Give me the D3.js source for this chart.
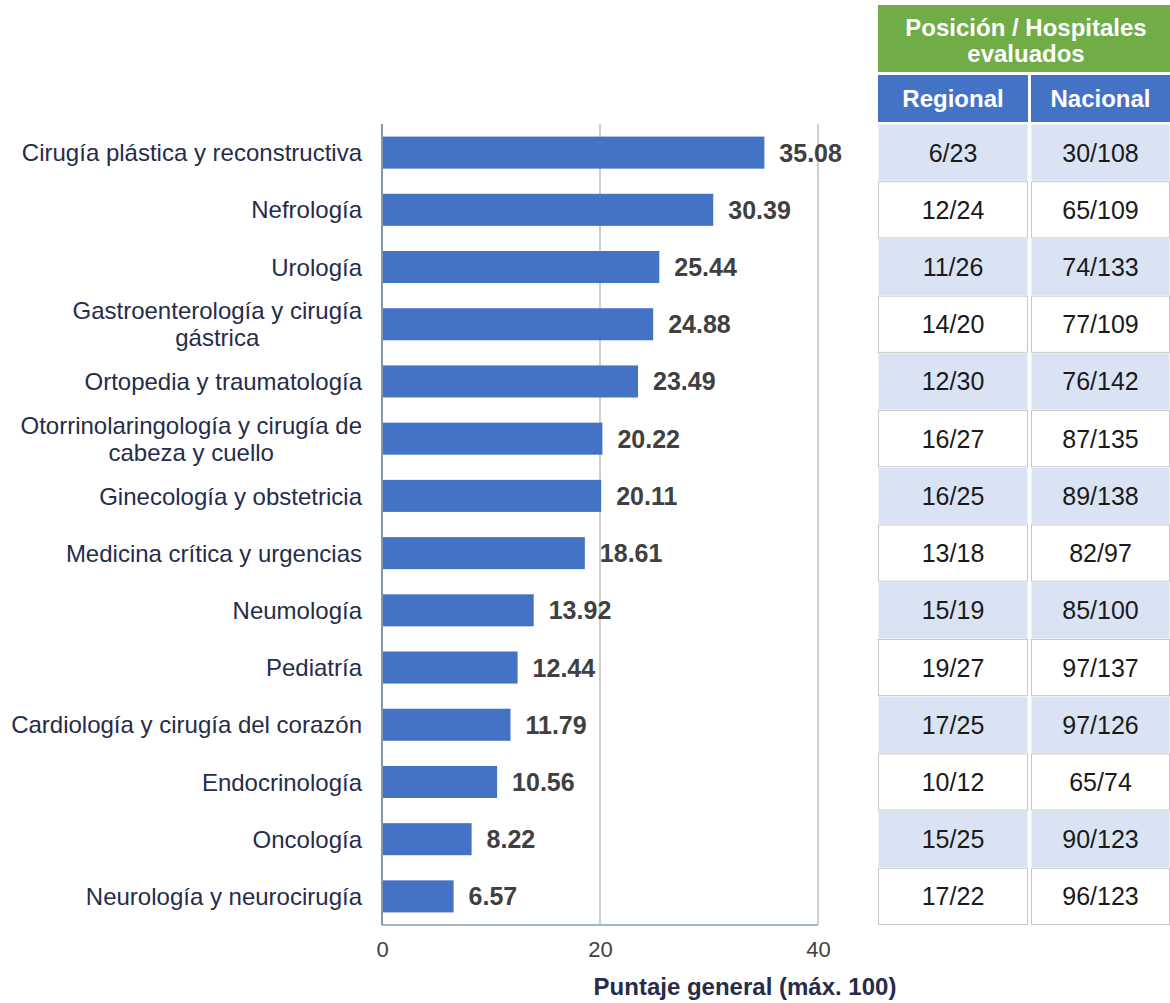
<!DOCTYPE html>
<html>
<head>
<meta charset="utf-8">
<script src="https://cdn.jsdelivr.net/npm/d3@7"></script>
<style>
  body { margin: 0; background: #fff; }
  svg { display: block; font-family: "Liberation Sans", Arial, sans-serif; }
</style>
</head>
<body>
<svg width="1170" height="1003"></svg>
<script>
const categories = [
  "Cirugía plástica y reconstructiva", "Nefrología", "Urología",
  "Gastroenterología y cirugía gástrica", "Ortopedia y traumatología",
  "Otorrinolaringología y cirugía de cabeza y cuello", "Ginecología y obstetricia",
  "Medicina crítica y urgencias", "Neumología", "Pediatría",
  "Cardiología y cirugía del corazón", "Endocrinología", "Oncología",
  "Neurología y neurocirugía"
];
const scores = [35.08, 30.39, 25.44, 24.88, 23.49, 20.22, 20.11, 18.61, 13.92, 12.44, 11.79, 10.56, 8.22, 6.57];
const regional = ["6/23", "12/24", "11/26", "14/20", "12/30", "16/27", "16/25", "13/18", "15/19", "19/27", "17/25", "10/12", "15/25", "17/22"];
const nacional = ["30/108", "65/109", "74/133", "77/109", "76/142", "87/135", "89/138", "82/97", "85/100", "97/137", "97/126", "65/74", "90/123", "96/123"];
const xTicks = [0, 20, 40];
const tableTitle = ["Posición / Hospitales", "evaluados"];
const colHeads = ["Regional", "Nacional"];
const axisTitle = "Puntaje general (máx. 100)";

const svg = d3.select("svg");
const plotTop = 124, plotBottom = 925;

var x = d3.scaleLinear().domain([0, 40]).range([382, 818]);
var y = d3.scaleBand().domain(categories).range([plotTop, plotBottom]).paddingInner(0.44).paddingOuter(0.22);
var rowY = d3.scaleBand().domain(categories).range([plotTop, plotBottom]);

// grid lines and frame
svg.selectAll("line.grid")
  .data(xTicks.slice(1))
  .enter().append("line")
  .attr("x1", d => x(d)).attr("x2", d => x(d))
  .attr("y1", plotTop).attr("y2", plotBottom)
  .attr("stroke", "#bfbfbf").attr("stroke-width", 1.5);

svg.append("line")
  .attr("x1", x(0)).attr("x2", x(40))
  .attr("y1", plotBottom).attr("y2", plotBottom)
  .attr("stroke", "#a6b4c8").attr("stroke-width", 2);
svg.append("line")
  .attr("x1", x(0)).attr("x2", x(0))
  .attr("y1", plotTop).attr("y2", plotBottom)
  .attr("stroke", "#8497b0").attr("stroke-width", 2);

// bars
svg.selectAll("rect.bar")
  .data(scores)
  .enter().append("rect")
  .attr("class", "bar")
  .attr("x", x(0) + 1)
  .attr("y", (d, i) => y(categories[i]))
  .attr("width", d => x(d) - x(0) - 1)
  .attr("height", y.bandwidth())
  .attr("fill", "#4472c4");

svg.selectAll("text.val")
  .data(scores)
  .enter().append("text")
  .attr("x", d => x(d) + 15)
  .attr("y", (d, i) => y(categories[i]) + y.bandwidth() / 2)
  .attr("dy", "0.36em")
  .attr("font-size", 25).attr("font-weight", "bold")
  .attr("fill", "#404040")
  .text(d => d.toFixed(2));

// category labels, wrapped and centred as a block
const labelRight = 362, maxW = 356;
categories.forEach(function(c, i) {
  var t = svg.append("text")
    .attr("font-size", 24).attr("fill", "#262c4a");
  var words = c.split(" "), lines = [], cur = [];
  words.forEach(function(w) {
    cur.push(w);
    t.text(cur.join(" "));
    if (t.node().getComputedTextLength() > maxW && cur.length > 1) {
      cur.pop();
      lines.push(cur.join(" "));
      cur = [w];
    }
  });
  lines.push(cur.join(" "));
  t.text(lines[0]);
  var w0 = t.node().getComputedTextLength();
  t.text(null);
  var cy = rowY(c) + rowY.bandwidth() / 2;
  var lh = 27;
  if (lines.length === 1) {
    t.attr("text-anchor", "end");
    t.append("tspan").attr("x", labelRight).attr("y", cy).attr("dy", "0.36em").text(lines[0]);
  } else {
    t.attr("text-anchor", "middle");
    lines.forEach(function(l, k) {
      t.append("tspan").attr("x", labelRight - w0 / 2)
        .attr("y", cy + (k - (lines.length - 1) / 2) * lh)
        .attr("dy", "0.36em").text(l);
    });
  }
});

// x axis
var axis = svg.append("g")
  .attr("transform", "translate(0," + (plotBottom + 16) + ")")
  .call(d3.axisBottom(x).tickValues(xTicks).tickSize(0).tickPadding(0));
axis.select(".domain").remove();
axis.selectAll("text")
  .style("font-size", "22px").attr("fill", "#404040")
  .style("font-family", "'Liberation Sans', Arial, sans-serif");

svg.append("text")
  .attr("x", 745).attr("y", 995)
  .attr("text-anchor", "middle")
  .attr("font-size", 24).attr("font-weight", "bold")
  .attr("fill", "#262c4a")
  .text(axisTitle);

// table
const tx0 = 878, tx1 = 1170, colSplit = 1029;
svg.append("rect")
  .attr("x", tx0).attr("y", 5).attr("width", tx1 - tx0).attr("height", 67)
  .attr("fill", "#70ad47");
svg.selectAll("text.ttl")
  .data(tableTitle)
  .enter().append("text")
  .attr("x", (tx0 + tx1) / 2 + 2)
  .attr("y", (d, i) => 27 + i * 26)
  .attr("dy", "0.36em")
  .attr("text-anchor", "middle")
  .attr("font-size", 24).attr("font-weight", "bold").attr("fill", "#fff")
  .text(d => d);

const cols = [[tx0, colSplit - 1], [colSplit + 2, tx1]];
cols.forEach(function(cx, k) {
  svg.append("rect")
    .attr("x", cx[0]).attr("y", 75).attr("width", cx[1] - cx[0]).attr("height", 47)
    .attr("fill", "#4472c4");
  svg.append("text")
    .attr("x", (cx[0] + cx[1]) / 2).attr("y", 98.5).attr("dy", "0.36em")
    .attr("text-anchor", "middle")
    .attr("font-size", 24).attr("font-weight", "bold").attr("fill", "#fff")
    .text(colHeads[k]);
});

[regional, nacional].forEach(function(vals, k) {
  var cx = cols[k];
  var g = svg.append("g");
  g.selectAll("rect")
    .data(vals)
    .enter().append("rect")
    .attr("x", cx[0] + 0.5)
    .attr("y", (d, i) => rowY(categories[i]) + 0.5)
    .attr("width", cx[1] - cx[0] - 1)
    .attr("height", rowY.bandwidth() - 1)
    .attr("fill", (d, i) => i % 2 === 0 ? "#dae3f3" : "#fff")
    .attr("stroke", (d, i) => i % 2 === 0 ? "none" : "#c8c8c8")
    .attr("stroke-width", 1);
  g.selectAll("text")
    .data(vals)
    .enter().append("text")
    .attr("x", (cx[0] + cx[1]) / 2)
    .attr("y", (d, i) => rowY(categories[i]) + rowY.bandwidth() / 2)
    .attr("dy", "0.36em")
    .attr("text-anchor", "middle")
    .attr("font-size", 25).attr("fill", "#1a1a1a")
    .text(d => d);
});
</script>
</body>
</html>
